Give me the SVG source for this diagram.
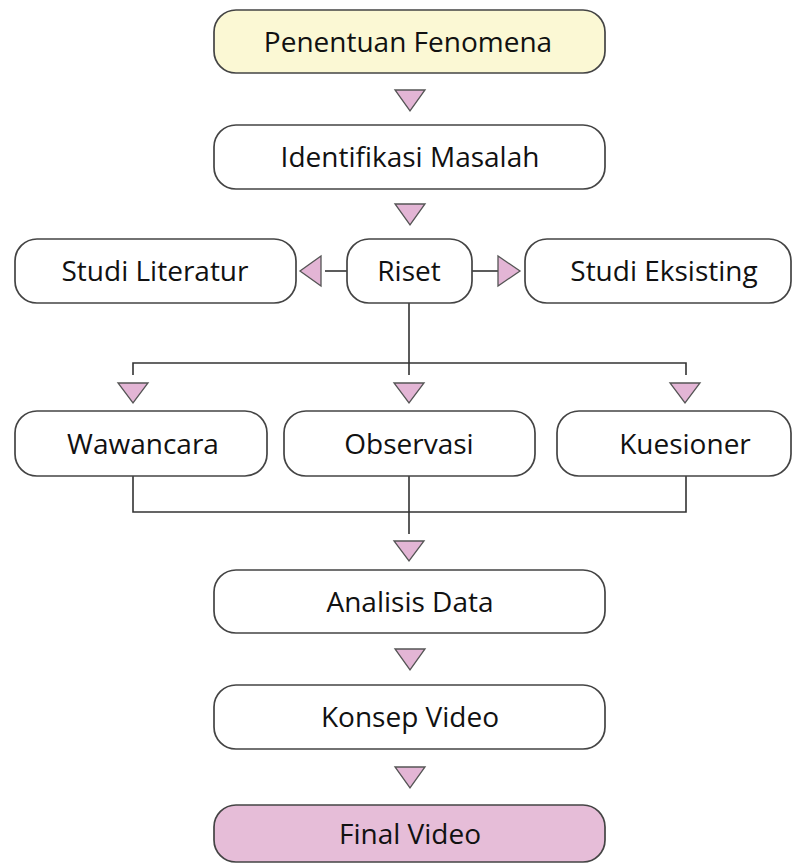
<svg xmlns="http://www.w3.org/2000/svg" width="794" height="866" viewBox="0 0 794 866">
<style>
.box{fill:#ffffff;stroke:#444;stroke-width:1.7}
.lbl{font-family:"Open Sans","Liberation Sans",sans-serif;font-size:28px;fill:#111;text-anchor:middle;dominant-baseline:central}
.line{fill:none;stroke:#333;stroke-width:1.6}
.tri{fill:#e3b5d5;stroke:#555;stroke-width:1.3}
</style>
<rect width="794" height="866" fill="#ffffff"/>
<g id="connectors">
<path class="line" d="M325,271 H347"/>
<path class="line" d="M472,271 H498"/>
<path class="line" d="M409,303 V363 M133,375 V363 H686 V375 M409,363 V375"/>
<path class="line" d="M133,476 V512 H686 V476 M409,476 V534"/>
<polygon class="tri" points="395,90 425,90 410,111"/>
<polygon class="tri" points="395,204 425,204 410,225"/>
<polygon class="tri" points="321,256 321,286 300,271"/>
<polygon class="tri" points="498,256 498,286 520,271"/>
<polygon class="tri" points="118,383 148,383 133,403"/>
<polygon class="tri" points="394,383 424,383 409,403"/>
<polygon class="tri" points="670,383 700,383 685,403"/>
<polygon class="tri" points="394,541 424,541 409,561"/>
<polygon class="tri" points="395,649 425,649 410,670"/>
<polygon class="tri" points="395,767 425,767 410,788"/>
</g>
<g id="n1"><rect class="box" x="214" y="10" width="391" height="63" rx="22" style="fill:#fbf8d4"/><text class="lbl" x="408" y="41">Penentuan Fenomena</text></g>
<g id="n2"><rect class="box" x="214" y="125" width="391" height="64" rx="22"/><text class="lbl" x="410" y="156">Identifikasi Masalah</text></g>
<g id="n3"><rect class="box" x="15" y="239" width="281" height="64" rx="22"/><text class="lbl" x="155" y="270">Studi Literatur</text></g>
<g id="n4"><rect class="box" x="347" y="239" width="125" height="64" rx="22"/><text class="lbl" x="409" y="270">Riset</text></g>
<g id="n5"><rect class="box" x="525" y="239" width="266" height="64" rx="22"/><text class="lbl" x="664" y="270">Studi Eksisting</text></g>
<g id="n6"><rect class="box" x="15" y="411" width="252" height="65" rx="22"/><text class="lbl" x="143" y="443">Wawancara</text></g>
<g id="n7"><rect class="box" x="284" y="411" width="251" height="65" rx="22"/><text class="lbl" x="409" y="443">Observasi</text></g>
<g id="n8"><rect class="box" x="557" y="411" width="234" height="65" rx="22"/><text class="lbl" x="685" y="443">Kuesioner</text></g>
<g id="n9"><rect class="box" x="214" y="570" width="391" height="63" rx="22"/><text class="lbl" x="410" y="601">Analisis Data</text></g>
<g id="n10"><rect class="box" x="214" y="685" width="391" height="64" rx="22"/><text class="lbl" x="410" y="716">Konsep Video</text></g>
<g id="n11"><rect class="box" x="214" y="805" width="391" height="57" rx="22" style="fill:#e6bdd8"/><text class="lbl" x="410" y="833">Final Video</text></g>
</svg>
